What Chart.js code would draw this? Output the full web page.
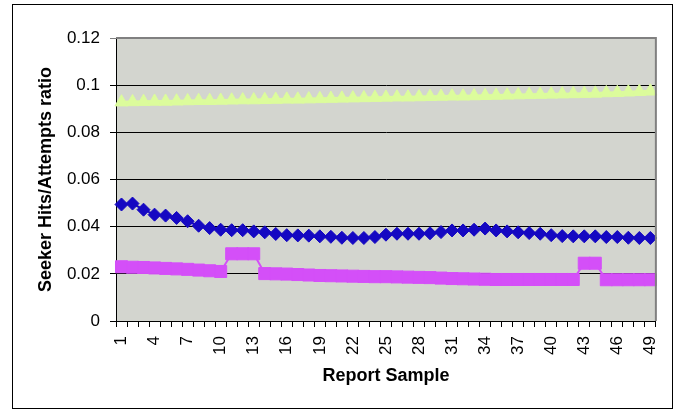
<!DOCTYPE html>
<html>
<head>
<meta charset="utf-8">
<script src="https://cdn.jsdelivr.net/npm/chart.js@4/dist/chart.umd.min.js"></script>
<style>
  html, body { margin: 0; padding: 0; background: #ffffff; }
  canvas { display: block; }
</style>
</head>
<body>
<canvas id="c" width="680" height="413"></canvas>
<script>
const categories = ['1','2','3','4','5','6','7','8','9','10','11','12','13','14','15','16','17','18','19','20','21','22','23','24','25','26','27','28','29','30','31','32','33','34','35','36','37','38','39','40','41','42','43','44','45','46','47','48','49'];
const xTickLabels = ['1','4','7','10','13','16','19','22','25','28','31','34','37','40','43','46','49'];
const yTickLabels = ['0','0.02','0.04','0.06','0.08','0.1','0.12'];

const blueSeries = [0.0494,0.0498,0.0472,0.0451,0.0447,0.0437,0.0423,0.0404,0.0394,0.0387,
  0.0385,0.0385,0.0380,0.0376,0.0369,0.0364,0.0363,0.0362,0.0359,0.0357,
  0.0353,0.0352,0.0352,0.0356,0.0366,0.0370,0.0370,0.0370,0.0372,0.0377,
  0.0384,0.0384,0.0387,0.0392,0.0384,0.0380,0.0376,0.0373,0.0370,0.0364,
  0.0360,0.0359,0.0359,0.0359,0.0356,0.0356,0.0353,0.0352,0.0352];
const magentaSeries = [0.0230,0.0228,0.0227,0.0225,0.0223,0.0221,0.0219,0.0216,0.0213,0.0210,
  0.0285,0.0285,0.0285,0.0201,0.0200,0.0199,0.0197,0.0195,0.0193,0.0192,
  0.0191,0.0190,0.0189,0.0188,0.0188,0.0187,0.0186,0.0185,0.0184,0.0182,
  0.0180,0.0179,0.0178,0.0177,0.0176,0.0176,0.0176,0.0176,0.0176,0.0176,
  0.0176,0.0176,0.0245,0.0245,0.0175,0.0175,0.0175,0.0175,0.0175];
const yellowSeries = [0.0928,0.0929,0.0930,0.0931,0.0931,0.0932,0.0933,0.0934,0.0934,0.0935,
  0.0936,0.0937,0.0937,0.0938,0.0939,0.0940,0.0940,0.0941,0.0942,0.0943,
  0.0944,0.0945,0.0946,0.0947,0.0948,0.0949,0.0949,0.0950,0.0951,0.0952,
  0.0953,0.0953,0.0954,0.0955,0.0956,0.0957,0.0958,0.0959,0.0960,0.0961,
  0.0962,0.0963,0.0964,0.0965,0.0967,0.0968,0.0970,0.0972,0.0974];

const FONT = "'Liberation Sans', Arial, Helvetica, sans-serif";

const decor = {
  id: 'decor',
  beforeDraw(chart) {
    const {ctx, chartArea: a} = chart;
    ctx.save();
    ctx.fillStyle = '#ffffff';
    ctx.fillRect(0, 0, chart.width, chart.height);
    ctx.fillStyle = '#d3d5cf';
    ctx.fillRect(a.left, a.top, a.right - a.left, a.bottom - a.top);
    ctx.restore();
  },
  afterDraw(chart) {
    const {ctx, chartArea: a} = chart;
    ctx.save();
    ctx.strokeStyle = '#808080';
    ctx.lineWidth = 2;
    ctx.beginPath();
    ctx.moveTo(a.left, a.top);
    ctx.lineTo(a.right, a.top);
    ctx.lineTo(a.right, a.bottom);
    ctx.stroke();
    ctx.strokeStyle = '#000000';
    ctx.lineWidth = 1;
    ctx.strokeRect(12.5, 4.5, 660, 404);
    ctx.restore();
  }
};

new Chart(document.getElementById('c'), {
  type: 'line',
  data: {
    labels: categories,
    datasets: [
      {
        data: yellowSeries,
        borderColor: '#dcfc9c',
        backgroundColor: '#dcfc9c',
        borderWidth: 3,
        pointStyle: 'triangle',
        pointRadius: 7.5,
        pointBorderWidth: 1,
        tension: 0
      },
      {
        data: blueSeries,
        borderColor: '#1508c2',
        backgroundColor: '#1508c2',
        borderWidth: 2,
        pointStyle: 'rectRot',
        pointRadius: 6.5,
        pointBorderWidth: 1,
        tension: 0
      },
      {
        data: magentaSeries,
        borderColor: '#d44ff8',
        backgroundColor: '#d44ff8',
        borderWidth: 2,
        pointStyle: 'rect',
        pointRadius: 8.5,
        pointBorderWidth: 1,
        tension: 0
      }
    ]
  },
  options: {
    responsive: false,
    animation: false,
    devicePixelRatio: 1,
    clip: false,
    layout: { padding: { left: 35, top: 38, right: 23, bottom: 26 } },
    plugins: { legend: { display: false }, tooltip: { enabled: false } },
    scales: {
      x: {
        type: 'category',
        offset: true,
        afterFit(scale) { scale.height = 66; },
        grid: { offset: true, drawOnChartArea: false, drawTicks: true, tickLength: 6, color: '#000000', lineWidth: 1 },
        border: { color: '#000000', width: 1 },
        ticks: {
          autoSkip: false,
          minRotation: 90,
          maxRotation: 90,
          padding: 9,
          color: '#000000',
          font: { family: FONT, size: 17 },
          callback(value, index) {
            const l = categories[index];
            return xTickLabels.includes(l) ? l : '';
          }
        },
        title: { display: true, text: 'Report Sample', color: '#000000', padding: 0, font: { family: FONT, size: 18, weight: 'bold' } }
      },
      y: {
        min: 0,
        max: 0.12,
        afterFit(scale) { scale.width = 81; },
        grid: {
          color: (c) => (c.tick && c.tick.value >= 0.119 ? '#808080' : '#000000'),
          lineWidth: 1,
          drawTicks: true,
          tickLength: 6
        },
        border: { color: '#000000', width: 1 },
        ticks: {
          stepSize: 0.02,
          padding: 10,
          color: '#000000',
          font: { family: FONT, size: 17 },
          callback(value, index) { return yTickLabels[index]; }
        },
        title: { display: true, text: 'Seeker Hits/Attempts ratio', color: '#000000', padding: 0, font: { family: FONT, size: 18, weight: 'bold' } }
      }
    }
  },
  plugins: [decor]
});
</script>
</body>
</html>
